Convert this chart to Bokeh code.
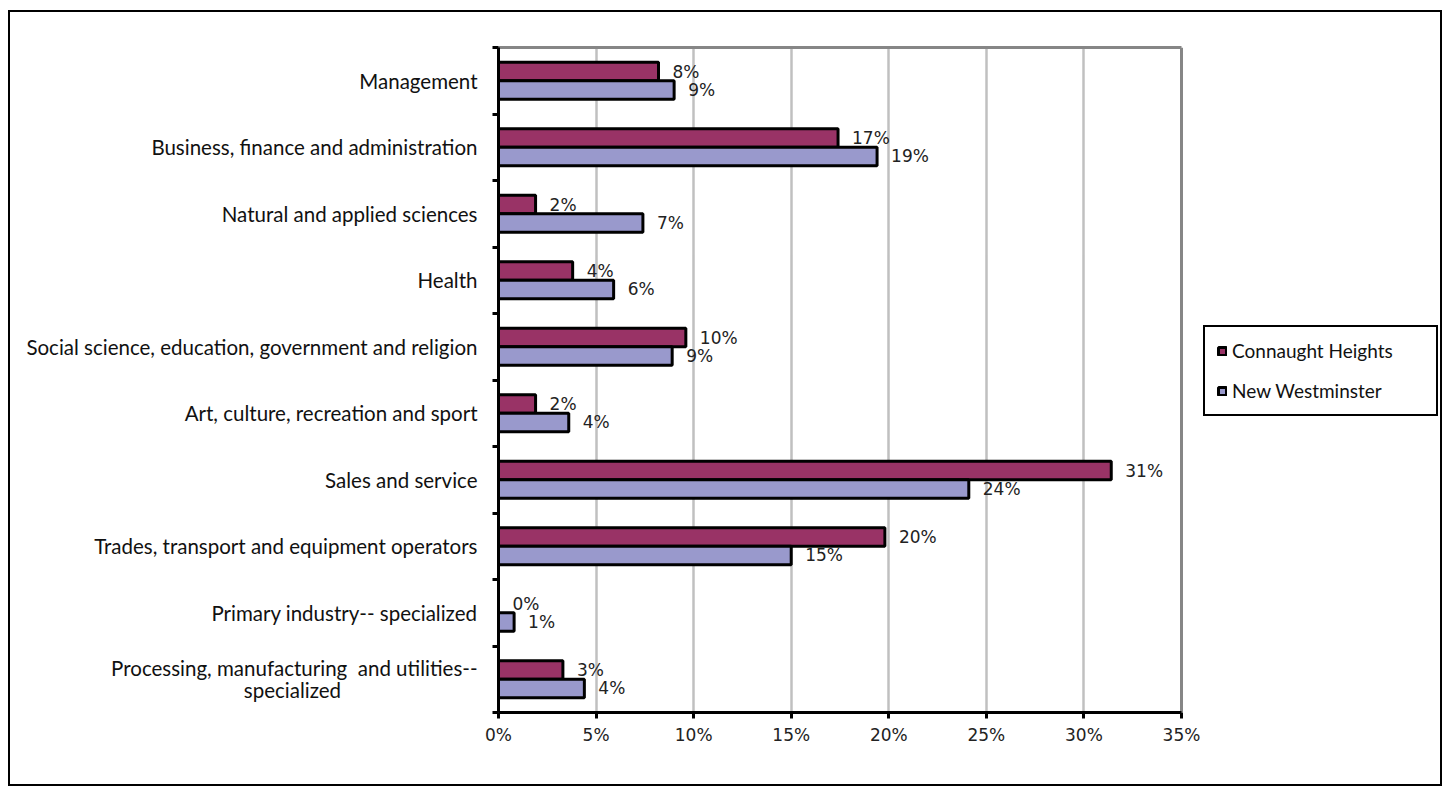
from bokeh.plotting import figure
from bokeh.models import (Range1d, FixedTicker, Legend, LegendItem, ColumnDataSource, Grid,
                          LinearAxis)
from bokeh.embed import file_html
from bokeh.resources import INLINE
from bokeh.core.properties import value

NB = "\u00a0"
categories = [
    "Management",
    "Business, finance and administration",
    "Natural and applied sciences",
    "Health",
    "Social science, education, government and religion",
    "Art, culture, recreation and sport",
    "Sales and service",
    "Trades, transport and equipment operators",
    "Primary industry-- specialized",
    "Processing, manufacturing" + NB + " and utilities--\nspecialized" + NB * 26,
]
connaught = [8.2, 17.4, 1.9, 3.8, 9.6, 1.9, 31.4, 19.8, 0.0, 3.3]
new_west = [9.0, 19.4, 7.4, 5.9, 8.9, 3.6, 24.1, 15.0, 0.8, 4.4]
series = ["Connaught Heights", "New Westminster"]
colors = ["#993366", "#9999CC"]
x_ticks = [0, 5, 10, 15, 20, 25, 30, 35]

BAR_H = 0.278
idx = list(range(len(categories)))
y_ch = [i - BAR_H / 2 for i in idx]
y_nw = [i + BAR_H / 2 for i in idx]

# the plotting frame spans the bar area plus the legend zone on the right;
# the value axis runs from 0 to 35 over 683 of its 942 px
X_MAX = x_ticks[-1]
x_end = X_MAX * 942 / 683

p = figure(width=1434, height=776, x_range=Range1d(0, x_end), y_range=Range1d(9.5, -0.5),
           output_backend="svg", toolbar_location=None,
           min_border_left=488, min_border_right=4, min_border_top=35, min_border_bottom=76)
p.styles = {"border": "2px solid black", "margin-left": "8px", "margin-top": "10px"}
p.background_fill_color = "white"
p.border_fill_color = "white"
p.outline_line_color = None

xa = p.below[0]
ya = p.left[0]

# grid
p.xgrid.ticker = FixedTicker(ticks=x_ticks[1:-1])
p.xgrid.grid_line_color = "#c0c0c0"
p.xgrid.grid_line_width = 2.5
p.ygrid.grid_line_color = None
# plot-area border: right side as a gray grid line, top side as a bare gray axis
p.add_layout(Grid(dimension=0, ticker=FixedTicker(ticks=[X_MAX]),
                  grid_line_color="#868686", grid_line_width=3))
top_axis = LinearAxis(bounds=(0, X_MAX), ticker=FixedTicker(ticks=[X_MAX]),
                      axis_line_color="#868686", axis_line_width=3,
                      major_tick_line_color=None, minor_tick_line_color=None,
                      major_label_overrides={X_MAX: ""},
                      major_label_text_font_size="1px", major_label_standoff=0)
p.add_layout(top_axis, "above")

src_ch = ColumnDataSource(dict(y=y_ch, v=connaught, t=[f"{round(v)}%" for v in connaught]))
src_nw = ColumnDataSource(dict(y=y_nw, v=new_west, t=[f"{round(v)}%" for v in new_west]))

r1 = p.hbar(y="y", left=0, right="v", height=BAR_H, source=src_ch,
            fill_color=colors[0], line_color="black", line_width=3)
r2 = p.hbar(y="y", left=0, right="v", height=BAR_H, source=src_nw,
            fill_color=colors[1], line_color="black", line_width=3)

for src in (src_ch, src_nw):
    p.text(x="v", y="y", text="t", source=src, x_offset=14, text_baseline="middle",
           text_align="left", text_font=value("DejaVu Sans"), text_font_size="17px",
           text_color="#222222")

# x axis
xa.bounds = (0, X_MAX)
xa.ticker = FixedTicker(ticks=x_ticks)
xa.major_label_overrides = {t: f"{t}%" for t in x_ticks}
xa.axis_line_color = "black"
xa.axis_line_width = 3
xa.major_tick_line_color = "black"
xa.major_tick_line_width = 3
xa.major_tick_out = 6
xa.major_tick_in = 0
xa.minor_tick_line_color = None
xa.major_label_standoff = 6
xa.major_label_text_font = "DejaVu Sans"
xa.major_label_text_font_size = "17px"
xa.major_label_text_color = "#222222"

# y axis
ya.ticker = FixedTicker(ticks=idx, minor_ticks=[i - 0.5 for i in range(len(categories) + 1)])
ya.major_label_overrides = {i: c for i, c in zip(idx, categories)}
ya.axis_line_color = "black"
ya.axis_line_width = 3
ya.major_tick_line_color = None
ya.major_tick_out = 0
ya.major_tick_in = 0
ya.minor_tick_line_color = "black"
ya.minor_tick_line_width = 3
ya.minor_tick_out = 6
ya.minor_tick_in = 0
ya.major_label_standoff = 15
ya.major_label_text_font = "Lato"
ya.major_label_text_font_size = "20.5px"
ya.major_label_text_line_height = 0.92
ya.major_label_text_color = "#111111"

legend = Legend(items=[LegendItem(label=series[0], renderers=[r1]),
                       LegendItem(label=series[1], renderers=[r2])],
                location=(705, 296), orientation="vertical",
                glyph_width=10, glyph_height=10, label_standoff=5,
                label_width=192, label_height=22, spacing=17, padding=12,
                label_text_font="Lato", label_text_font_size="19px",
                label_text_color="#111111", border_line_color="black",
                border_line_width=2.5, border_line_alpha=1.0,
                background_fill_color="white", background_fill_alpha=1.0)
p.add_layout(legend)

open("out.html", "w").write(file_html(p, INLINE))
